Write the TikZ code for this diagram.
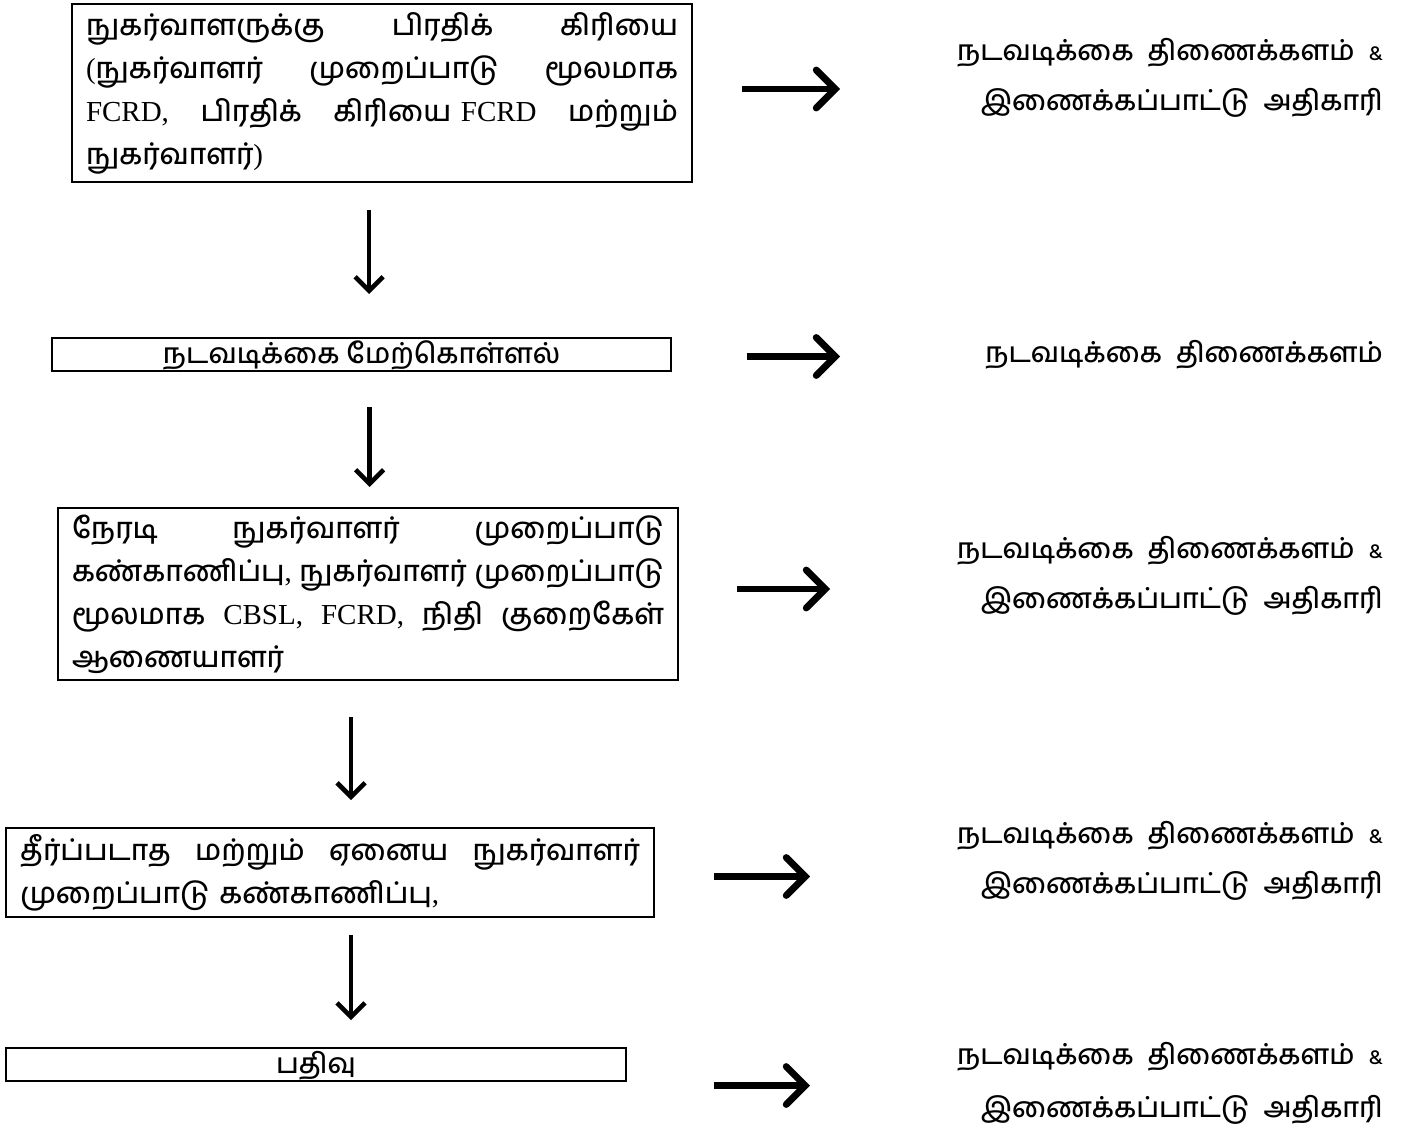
\documentclass[tikz,border=0pt]{standalone}
\usepackage{fontspec}
\setmainfont{Liberation Serif}
\newfontfamily\tamil[Script=Tamil,UprightFont={* Medium}]{Hind Madurai}
\newcommand{\lat}[1]{{\rmfamily #1}}
\usetikzlibrary{arrows.meta,calc}
\begin{document}
\begin{tikzpicture}[x=0.5pt,y=-0.5pt,
  boxnode/.style={draw,line width=1pt,anchor=north west,inner xsep=7pt,inner ysep=2pt,
    font=\tamil\fontsize{14.5}{21.5}\selectfont},
  parbox/.style={boxnode,align=left},
  onebox/.style={boxnode,align=center,text height=11.3pt,text depth=2.2pt,inner ysep=0pt,
    font=\tamil\fontsize{14}{16}\selectfont},
  rtext/.style={anchor=east,align=right,font=\tamil\fontsize{14}{25}\selectfont},
  rarr/.style={line width=3.4pt,-{Straight Barb[length=9.5pt,width=19pt,line cap=round]}},
  darr/.style={line width=2.3pt,-{Straight Barb[length=7pt,width=14pt]}}]
\useasboundingbox (0,0) rectangle (1418,1134);

\node[parbox,text width=296pt,minimum height=89pt] (b1) at (71,3) {%
நுகர்வாளருக்கு\hfill பிரதிக்\hfill கிரியை\\
\lat{(}நுகர்வாளர்\hfill முறைப்பாடு\hfill மூலமாக\\
\lat{FCRD,}\hfill பிரதிக்\hfill கிரியை \lat{FCRD}\hfill மற்றும்\\
நுகர்வாளர்\lat{)}};

\node[onebox,minimum width=309.5pt,minimum height=16.5pt] (b2) at (51,337) {நடவடிக்கை மேற்கொள்ளல்};

\node[parbox,text width=296pt,minimum height=86pt] (b3) at (57,507) {%
நேரடி\hfill நுகர்வாளர்\hfill முறைப்பாடு\\
கண்காணிப்பு\lat{,}\hfill நுகர்வாளர்\hfill முறைப்பாடு\\
மூலமாக\hfill \lat{CBSL,}\hfill \lat{FCRD,}\hfill நிதி\hfill குறைகேள்\\
ஆணையாளர்};

\node[parbox,text width=310pt,minimum height=44.5pt] (b4) at (5,827) {%
தீர்ப்படாத\hfill மற்றும்\hfill ஏனைய\hfill நுகர்வாளர்\\
முறைப்பாடு கண்காணிப்பு\lat{,}};

\node[onebox,minimum width=310pt,minimum height=16.5pt] (b5) at (5,1047) {பதிவு};

\node[rtext] (r1) at (1390,78) {நடவடிக்கை\enspace திணைக்களம்\enspace {\fontsize{10}{10}\selectfont\&}\\இணைக்கப்பாட்டு\enspace அதிகாரி};
\node[rtext] (r2) at (1390,355) {நடவடிக்கை\enspace திணைக்களம்};
\node[rtext] (r3) at (1390,576) {நடவடிக்கை\enspace திணைக்களம்\enspace {\fontsize{10}{10}\selectfont\&}\\இணைக்கப்பாட்டு\enspace அதிகாரி};
\node[rtext] (r4) at (1390,861) {நடவடிக்கை\enspace திணைக்களம்\enspace {\fontsize{10}{10}\selectfont\&}\\இணைக்கப்பாட்டு\enspace அதிகாரி};
\node[rtext,font=\tamil\fontsize{14}{26.5}\selectfont] (r5) at (1390,1083) {நடவடிக்கை\enspace திணைக்களம்\enspace {\fontsize{10}{10}\selectfont\&}\\இணைக்கப்பாட்டு\enspace அதிகாரி};

\draw[darr] ([shift={(-13,27)}]b1.south) -- ++(0,84);
\draw[darr] ([shift={(8,35)}]b2.south) -- ++(0,80);
\draw[darr] ([shift={(-17,36)}]b3.south) -- ++(0,83);
\draw[darr] ([shift={(21,17)}]b4.south) -- ++(0,85);

\draw[rarr] ([shift={(49,-4)}]b1.east) -- ++(98,0);
\draw[rarr] ([shift={(75,2)}]b2.east) -- ++(93,0);
\draw[rarr] ([shift={(58,-5)}]b3.east) -- ++(93,0);
\draw[rarr] ([shift={(59,4)}]b4.east) -- ++(96,0);
\draw[rarr] ([shift={(87,21)}]b5.east) -- ++(96,0);
\end{tikzpicture}
\end{document}
